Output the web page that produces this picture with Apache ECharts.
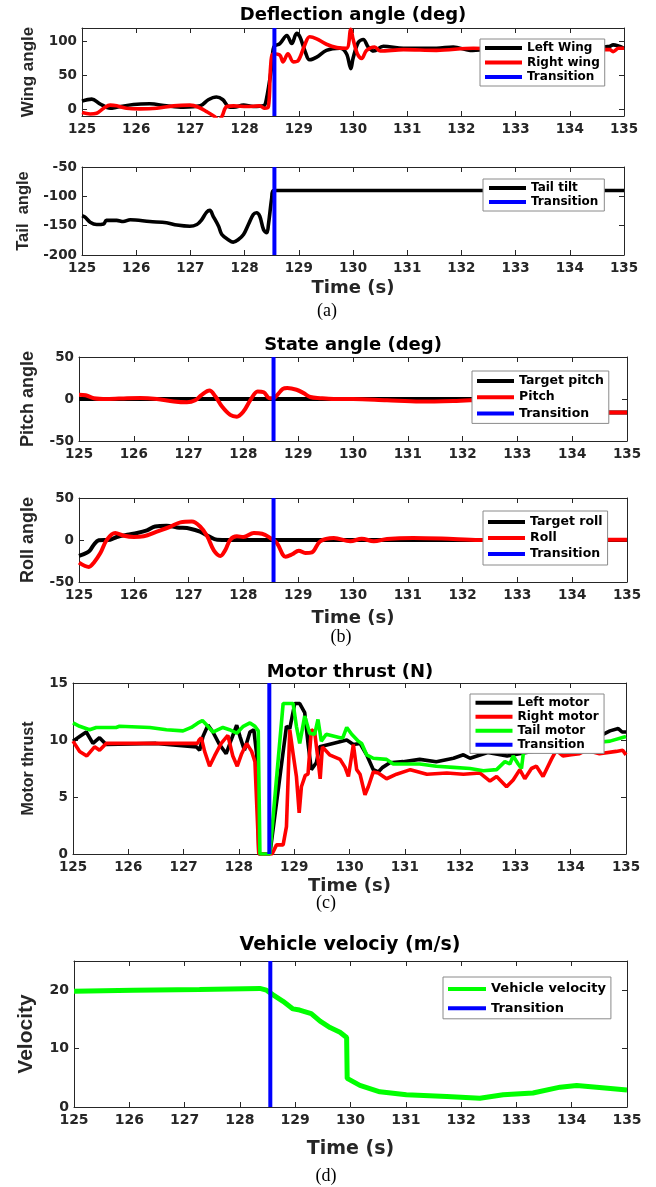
<!DOCTYPE html>
<html><head><meta charset="utf-8">
<script src="https://cdn.jsdelivr.net/npm/echarts@6/dist/echarts.min.js"></script>
<style>html,body{margin:0;padding:0;background:#fff}#c{width:656px;height:1187px}</style>
</head><body><div id="c"></div>
<script>
// ---------- DATA ----------
const transitionT = 128.55;
const xTicks = [125,126,127,128,129,130,131,132,133,134,135];

// (a) Deflection angle
const leftWingT = [125,125.18,125.33,125.52,125.64,125.95,126.25,126.56,126.87,127.18,127.33,127.48,127.6,127.7,127.8,127.98,128.16,128.35,128.4,128.5,128.54,128.65,128.78,128.87,128.96,129.02,129.11,129.2,129.33,129.51,129.76,129.88,129.96,130.0,130.1,130.19,130.28,130.38,130.56,130.93,131.54,131.85,132.16,132.6,133.2,133.8,134.4,134.74,134.8,135];
const leftWing  = [12,15,8,1.5,3,7,8,5,3,5,14,18,14,4,3,6,4,5,14,63,92,97,109,97,112,107,87,73,77,87,90,82,60,75,99,103,92,86,93,90,90,92,87,89,90,90,90,93,95,90];
const rightWingT = [125,125.15,125.27,125.4,125.52,125.64,125.82,126.07,126.38,126.69,126.99,127.15,127.3,127.45,127.52,127.58,127.67,127.8,128.04,128.28,128.37,128.44,128.48,128.53,128.65,128.71,128.8,128.9,128.99,129.11,129.2,129.33,129.51,129.7,129.88,129.96,130.0,130.08,130.16,130.25,130.4,130.5,130.93,131.54,132.22,132.8,133.4,134.0,134.6,134.74,134.8,134.9,135];
const rightWing  = [-5,-7,-6,1.5,6,5,1.5,0.5,1.5,5,6,3,-3.5,-11,-16,-11,4,5,4,5,1.5,4,63,82,80,70,82,70,72,95,107,104,96,91,90,118,104,82,75,87,92,86,88,87,90,89,89,88,88,88,85,90,90];
const tailT = [125.0,125.05,125.15,125.27,125.4,125.45,125.64,125.76,125.89,126.25,126.56,126.75,126.99,127.12,127.2,127.3,127.36,127.42,127.52,127.58,127.7,127.79,127.88,127.98,128.07,128.16,128.22,128.28,128.35,128.41,128.44,128.5,128.53,135];
const tailTilt = [-133,-135,-144,-148,-147,-141,-141,-143,-140,-143,-145,-149,-151,-148,-141,-127,-124,-134,-151,-165,-174,-178,-174,-165,-148,-131,-128,-134,-157,-162,-148,-103,-90,-90];

// (b) State angle
const targetPitchT = [125,126.5,127,130,132.3,133.0,133.8,134.3,135];
const targetPitch  = [0,0,0,0,0,-4,-14,-16,-16];
const pitchT = [125,125.12,125.27,125.51,125.88,126.12,126.42,126.73,126.97,127.12,127.24,127.38,127.49,127.61,127.76,127.88,128.0,128.13,128.26,128.37,128.48,128.55,128.62,128.72,128.8,128.97,129.1,129.22,129.4,129.65,130.0,130.62,131.23,131.83,132.14,133.0,133.8,134.3,135];
const pitch  = [5,4.4,1,0,1,1.2,0,-3,-4,-1.6,5,10,3,-9,-19,-21,-15,-1,9,8,1,1,5,12,13,11,7,2.4,1,0,0,-1.6,-3,-2.4,-1.6,-4,-14,-16,-16];
const targetRollT = [125,125.15,125.21,125.27,125.36,125.57,125.69,125.88,126.06,126.24,126.39,126.6,126.79,127.03,127.21,127.37,127.52,128,130,132,135];
const targetRoll  = [-19,-15,-11.5,-5.6,-0.4,0.4,3.6,6.3,8.3,11.5,16,17,15,13.5,10,4.4,0.4,0,0,0,0];
const rollT = [125,125.18,125.27,125.39,125.51,125.66,125.82,126.0,126.18,126.42,126.67,126.85,127.06,127.21,127.34,127.46,127.58,127.67,127.76,127.88,128.0,128.19,128.34,128.49,128.61,128.77,128.89,129.01,129.13,129.25,129.4,129.65,129.95,130.16,130.38,130.62,131.1,131.83,132.38,133.5,134.7,135];
const roll  = [-27,-32,-27,-15.5,0.4,8.3,5,3.6,4.4,10,16,21,22,16,4.4,-12.3,-19,-12,0.4,4.4,3.6,8.3,7.5,2.4,-3.6,-20,-17,-12.7,-15.5,-14.7,-1.6,2.4,-1.6,1.6,-1.6,1.2,2.4,1.2,0,0.3,0.4,0.4];

// (c) Motor thrust
const leftMotorT = [125.0,125.12,125.24,125.36,125.48,125.6,126.5,127.23,127.29,127.35,127.44,127.53,127.65,127.77,127.86,127.96,128.02,128.1,128.2,128.27,128.32,128.36,128.56,128.86,128.92,129.01,129.1,129.19,129.25,129.31,129.4,129.46,129.7,129.95,130.07,130.19,130.31,130.43,130.52,130.6,130.73,130.97,131.27,131.57,131.88,132.06,132.18,132.5,132.85,133.3,133.8,134.3,134.71,134.86,134.93,135];
const leftMotor  = [9.9,10.3,10.7,9.7,10.2,9.6,9.7,9.4,9.1,10.3,11.3,10.7,9.6,8.8,10,11.3,10.3,9.1,10.7,10.9,8.8,0,0,11.2,11,13.2,13.2,12.4,9.7,7.4,8,9.4,9.7,10,9.6,9.7,8.7,7.4,7.2,7.6,8,8.1,8.3,8.1,8.4,8.7,8.4,8.9,8.6,9.0,9.3,9.8,10.8,11,10.7,10.7];
const rightMotorT = [125.0,125.12,125.25,125.39,125.48,125.6,126.5,127.25,127.28,127.32,127.38,127.47,127.56,127.68,127.8,127.89,127.97,128.05,128.14,128.23,128.29,128.32,128.36,128.6,128.68,128.8,128.86,128.92,128.98,129.04,129.09,129.13,129.2,129.25,129.31,129.37,129.43,129.47,129.51,129.64,129.83,129.92,129.98,130.07,130.13,130.19,130.28,130.34,130.43,130.52,130.67,130.85,131.1,131.4,131.76,132.06,132.36,132.54,132.66,132.84,132.96,133.08,133.17,133.29,133.38,133.5,133.65,133.74,133.86,134.01,134.16,134.28,134.52,134.82,134.94,135];
const rightMotor  = [9.9,9.0,8.6,9.4,9.1,9.7,9.7,9.7,10,10.2,9,7.7,8.6,9.7,10.4,8.6,7.7,8.8,9.7,9,8.1,8.0,0,0,0.8,0.8,2.4,10.9,8.8,6.8,3.6,5.9,6.9,7.0,10.9,10.7,8.3,6.6,9.4,8.7,8.3,7.6,6.8,9.6,7.4,7,5.2,5.9,7.2,7.1,6.6,7,7.4,7,7.1,7,7.1,6.4,6.8,5.9,6.5,7.4,6.6,7.5,7.7,6.8,8.3,9.1,8.6,8.7,8.8,9.1,8.8,9,9.1,8.7];
const tailMotorT = [125.0,125.12,125.3,125.42,125.78,125.84,126.39,126.69,126.99,127.14,127.26,127.34,127.44,127.53,127.71,127.83,127.96,128.08,128.2,128.29,128.35,128.38,128.56,128.8,128.98,129.04,129.1,129.19,129.28,129.37,129.43,129.49,129.58,129.83,129.88,129.95,130.04,130.16,130.22,130.31,130.43,130.67,130.79,131.27,131.57,131.88,132.18,132.42,132.66,132.81,132.9,132.96,133.05,133.11,133.15,133.23,133.6,134.1,134.5,134.71,135];
const tailMotor  = [11.5,11.2,10.9,11.1,11.1,11.2,11.1,10.9,10.8,11.1,11.5,11.7,11.2,10.7,11.1,10.9,10.6,11.2,11.5,11.2,10.8,0,0,13.2,13.2,11.2,9.7,12.1,10.6,10.5,11.8,9.9,10.5,10.2,10.2,11.1,10.5,9.9,9.7,8.7,8.4,8.3,7.9,7.9,7.7,7.6,7.5,7.3,7.4,8.1,7.9,8.6,7.9,7.5,9.1,9.3,9.5,9.6,9.8,9.9,10.3];

// (d) Vehicle velocity
const velT = [125,126.07,127.27,128.36,128.48,128.6,128.78,128.96,129.08,129.29,129.45,129.63,129.81,129.93,129.94,130.17,130.53,131.01,131.74,132.34,132.76,133.3,133.79,134.09,134.45,135];
const vel  = [19.8,20,20.1,20.3,20,19.2,18.1,16.8,16.6,16.0,14.7,13.6,12.8,11.9,4.9,3.7,2.6,2.1,1.8,1.5,2.1,2.4,3.4,3.7,3.4,2.9];

// y ranges and ticks
const yRanges = [[-10,120],[-200,-50],[-50,50],[-50,50],[0,15],[0,25]];
const yTicks = [[0,50,100],[-200,-150,-100,-50],[-50,0,50],[-50,0,50],[0,5,10,15],[0,10,20]];
const yNames = ['Wing angle','Tail  angle','Pitch angle','Roll angle','Motor thrust','Velocity'];

// ---------- CHART ----------
const zip = (t, v) => t.map((x, i) => [x, v[i]]);
const grids = [
  {left:82, top:28,  width:542, height:88},
  {left:82, top:167, width:542, height:88},
  {left:79, top:357, width:548, height:84},
  {left:79, top:498, width:548, height:84},
  {left:73, top:683, width:553, height:171},
  {left:74, top:961, width:553, height:146}
];
const INK = '#262626';
const labelSize = [13.5,13.5,13.5,13.5,13.5,14];
const yNameSize = [17,16.5,18,18,16,21];
const yNameGap = [45,49,42,42,36,37];
const xNameGap = [null,24,null,27,23,33];
const xNameSize = [0,18,0,18,18,19];

const xAxis = [], yAxis = [];
grids.forEach((g, i) => {
  const base = {gridIndex:i, type:'value', min:125, max:135,
    axisLine:{onZero:false, lineStyle:{color:INK, width:1}}, splitLine:{show:false},
    axisTick:{inside:true, length:5, lineStyle:{color:INK}, customValues:xTicks}};
  xAxis.push(Object.assign({}, base, {position:'bottom',
    axisLabel:{customValues:xTicks, color:INK, fontFamily:'DejaVu Sans', fontWeight:'bold', fontSize:labelSize[i], margin:6},
    name: xNameGap[i] ? 'Time (s)' : '', nameLocation:'middle', nameGap: xNameGap[i] || 0,
    nameTextStyle:{fontFamily:'DejaVu Sans', fontWeight:'bold', fontSize:xNameSize[i] || 12, color:INK}}));
  xAxis.push(Object.assign({}, base, {position:'top', axisLabel:{show:false}}));
  const ybase = {gridIndex:i, type:'value', min:yRanges[i][0], max:yRanges[i][1],
    axisLine:{show:true, onZero:false, lineStyle:{color:INK, width:1}}, splitLine:{show:false},
    axisTick:{show:true, inside:true, length:5, lineStyle:{color:INK}, customValues:yTicks[i]}};
  yAxis.push(Object.assign({}, ybase, {position:'left',
    axisLabel:{customValues:yTicks[i], color:INK, fontFamily:'DejaVu Sans', fontWeight:'bold', fontSize:labelSize[i], margin:5},
    name:yNames[i], nameLocation:'middle', nameGap:yNameGap[i],
    nameTextStyle:{fontFamily:'Liberation Sans', fontWeight:'bold', fontSize:yNameSize[i], color:INK}}));
  yAxis.push(Object.assign({}, ybase, {position:'right', axisLabel:{show:false}}));
});

function line(name, gi, t, v, color, smooth, w) {
  return {type:'line', name, xAxisIndex:2*gi, yAxisIndex:2*gi, data:zip(t, v),
    color, showSymbol:false, symbol:'none', smooth: smooth ? 0.35 : false,
    lineStyle:{width:w || 3.6, color}, emphasis:{disabled:true}, animation:false};
}
function transition(gi) {
  return {type:'line', name:'Transition', xAxisIndex:2*gi, yAxisIndex:2*gi,
    data:[[transitionT, yRanges[gi][0]],[transitionT, yRanges[gi][1]]],
    color:'#0000ff', showSymbol:false, symbol:'none', lineStyle:{width:4, color:'#0000ff'},
    emphasis:{disabled:true}, animation:false, z:5};
}
const BLK='#000000', RED='#ff0000', GRN='#00ff00';
const series = [
  line('Left Wing', 0, leftWingT, leftWing, BLK, true),
  line('Right wing', 0, rightWingT, rightWing, RED, true),
  transition(0),
  line('Tail tilt', 1, tailT, tailTilt, BLK, true),
  transition(1),
  line('Target pitch', 2, targetPitchT, targetPitch, BLK, true, 4),
  line('Pitch', 2, pitchT, pitch, RED, true, 4),
  transition(2),
  line('Target roll', 3, targetRollT, targetRoll, BLK, true, 4),
  line('Roll', 3, rollT, roll, RED, true, 4),
  transition(3),
  line('Left motor', 4, leftMotorT, leftMotor, BLK, false),
  line('Right motor', 4, rightMotorT, rightMotor, RED, false),
  line('Tail motor', 4, tailMotorT, tailMotor, GRN, false),
  transition(4),
  line('Vehicle velocity', 5, velT, vel, GRN, false, 5),
  transition(5)
];

function legend(left, top, data, pad, gap, fs, iw) {
  return {left, top, orient:'vertical', data, icon:'rect', itemWidth:iw || 37, itemHeight:4,
    itemGap:gap, padding:pad, borderColor:'#8a8a8a', borderWidth:1, backgroundColor:'#ffffff',
    selectedMode:false, z:10,
    textStyle:{fontFamily:'DejaVu Sans', fontWeight:'bold', fontSize:fs, color:'#000'}};
}
const legends = [
  legend(480, 39, ['Left Wing','Right wing','Transition'], [3,5,3,5], 2.5, 12),
  legend(483, 179, ['Tail tilt','Transition'], [3,6,3,6], 2, 12),
  legend(472, 371, ['Target pitch','Pitch','Transition'], [3.4,5,3.4,5], 3.3, 12.5),
  legend(483, 511, ['Target roll','Roll','Transition'], [4.5,5,4.5,5], 3, 12.5),
  legend(470, 694, ['Left motor','Right motor','Tail motor','Transition'], [2.7,5.5,2.7,5.5], 2, 12),
  legend(443, 977, ['Vehicle velocity','Transition'], [5.5,5,4,5], 6.3, 13, 38)
];

function txt(x, y, text, font) {
  return {type:'text', x, y, silent:true,
    style:{text, font, fill:'#000', align:'center', verticalAlign:'middle', textAlign:'center', textVerticalAlign:'middle'}};
}
const graphics = [
  txt(353, 15.5, 'Deflection angle (deg)', 'bold 18px "DejaVu Sans"'),
  txt(353, 345, 'State angle (deg)', 'bold 18px "DejaVu Sans"'),
  txt(350, 672, 'Motor thrust (N)', 'bold 18px "DejaVu Sans"'),
  txt(350, 945, 'Vehicle velociy (m/s)', 'bold 19px "DejaVu Sans"'),
  txt(327, 311, '(a)', '18px "Liberation Serif"'),
  txt(341, 637, '(b)', '18px "Liberation Serif"'),
  txt(326, 903, '(c)', '18px "Liberation Serif"'),
  txt(326, 1176, '(d)', '18px "Liberation Serif"')
];

const chart = echarts.init(document.getElementById('c'), null, {renderer:'canvas'});
chart.setOption({
  animation:false,
  backgroundColor:'#ffffff',
  grid: grids.map(g => Object.assign({containLabel:false}, g)),
  xAxis, yAxis, series,
  legend: legends,
  graphic: graphics
});
</script></body></html>
